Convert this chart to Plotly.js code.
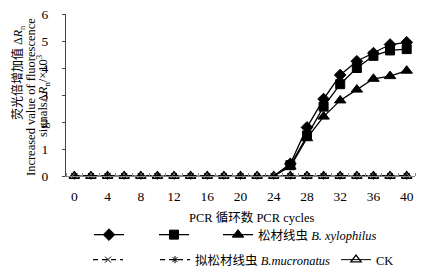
<!DOCTYPE html>
<html><head><meta charset="utf-8">
<script src="https://cdn.plot.ly/plotly-3.0.1.min.js"></script>
<style>body{margin:0;background:#fff}#c{width:432px;height:274px}</style>
</head><body><div id="c"></div>
<script>
const cycles = [0,2,4,6,8,10,12,14,16,18,20,22,24,26,28,30,32,34,36,38,40];
// B. xylophilus series: flat (0) until cycle 24, then rising
const bx1 = [0,0,0,0,0,0,0,0,0,0,0,0,0,0.45,1.8,2.85,3.74,4.25,4.55,4.87,4.95];
const bx2 = [0,0,0,0,0,0,0,0,0,0,0,0,0,0.40,1.5,2.57,3.4,4.0,4.45,4.65,4.7];
const bx3 = [0,0,0,0,0,0,0,0,0,0,0,0,0,0.35,1.4,2.2,2.8,3.2,3.6,3.7,3.9];
const bm1 = [0,0,0,0,0,0,0,0,0,0,0,0,0,0,0,0,0,0,0,0,0];
const bm2 = [0,0,0,0,0,0,0,0,0,0,0,0,0,0,0,0,0,0,0,0,0];
const ck  = [0,0,0,0,0,0,0,0,0,0,0,0,0,0,0,0,0,0,0,0,0];
const names = ['', '', '松材线虫 <i>B. xylophilus</i>', '', '拟松材线虫 <i>B.mucronatus</i>', 'CK'];
const xTicks = [0,4,8,12,16,20,24,28,32,36,40];
const yTicks = [0,1,2,3,4,5,6];
const riseStart = 13; // index of first non-zero point (cycle 26)

const FONT = 'Liberation Serif, Times New Roman, Noto Sans CJK SC, serif';
function legId(i) { return i === 0 ? 'legend' : 'legend' + (i + 1); }
function tr(y, i, sym, size, dash, from) {
  return {
    x: cycles.slice(from), y: y.slice(from), name: names[i], mode: 'lines+markers', cliponaxis: false,
    legend: legId(i),
    line: {color: '#000', width: 1.3, dash: dash},
    marker: {symbol: sym, size: size, color: '#000', line: {color: '#000', width: 1}}
  };
}
function connector(y, i) {
  return {x: cycles.slice(riseStart - 1, riseStart + 1), y: y.slice(riseStart - 1, riseStart + 1),
    mode: 'lines', showlegend: false, legend: legId(i), cliponaxis: false,
    line: {color: '#000', width: 1.3}};
}
const ckTrace = tr(ck, 5, 'triangle-up-open', 9, 'solid', 0);
ckTrace.line.width = 1; ckTrace.marker.line.width = 1.3;
const data = [
  connector(bx1, 0), connector(bx2, 1), connector(bx3, 2),
  tr(bx1, 0, 'diamond', 9, 'solid', riseStart),
  tr(bx2, 1, 'square', 9, 'solid', riseStart),
  tr(bx3, 2, 'triangle-up', 10, 'solid', riseStart),
  ckTrace,
  tr(bm1, 3, 'x-thin-open', 6, '5px,4px', 0),
  tr(bm2, 4, 'asterisk-open', 6, '5px,4px', 0)
];
function px2x(p) { return (p - 66) / 349; }
function py2y(p) { return (176 - p) / 162; }
function leg(xp, yp) {
  return {x: px2x(xp), y: py2y(yp), xanchor: 'left', yanchor: 'middle', orientation: 'h',
    bgcolor: 'rgba(0,0,0,0)', borderwidth: 0, itemwidth: 30,
    font: {family: FONT, size: 12.5, color: '#000'}};
}
function ylab(text, xp, yp, fs) {
  return {xref: 'paper', yref: 'paper', x: px2x(xp), y: py2y(yp), xanchor: 'center', yanchor: 'middle',
    textangle: -90, showarrow: false, font: {family: FONT, size: fs, color: '#000'}, text: text};
}
const layout = {
  width: 432, height: 274,
  margin: {l: 66, r: 17, t: 14, b: 98, autoexpand: false},
  paper_bgcolor: '#fff', plot_bgcolor: '#fff',
  font: {family: FONT, size: 12, color: '#000'},
  showlegend: true,
  legend: leg(89, 235), legend2: leg(154, 235), legend3: leg(218, 235),
  legend4: leg(88, 260), legend5: leg(155, 260), legend6: leg(336, 260),
  xaxis: {range: [-1, 41], tickvals: xTicks, ticktext: xTicks.map(String), ticks: '',
    showline: true, linecolor: '#888', linewidth: 1, showgrid: false, zeroline: false,
    minor: {ticks: 'inside', tick0: 1, dtick: 2, ticklen: 3, tickcolor: '#888'},
    tickfont: {family: FONT, size: 13.5}, automargin: false, ticklabelstandoff: 8},
  yaxis: {range: [0, 6], tickvals: yTicks, ticks: 'outside', ticklen: 3, tickcolor: '#444',
    ticklabelstandoff: 11, automargin: false,
    showline: true, linecolor: '#444', linewidth: 1, showgrid: false, zeroline: false,
    tickfont: {family: FONT, size: 13.5}},
  annotations: [
    ylab('荧光倍增加值 Δ<i>R</i><sub>n</sub>', 18, 73, 12),
    ylab('Increased value of fluorescence', 31, 97, 12.5),
    ylab('signalsΔ<i>R</i><sub>n</sub>/×10<sup>3</sup>', 43, 96, 12.5),
    {xref: 'paper', yref: 'paper', x: px2x(251), y: py2y(217), xanchor: 'center', yanchor: 'middle',
     showarrow: false, font: {family: FONT, size: 12.5, color: '#000'}, text: 'PCR 循环数 PCR cycles'}
  ]
};
Plotly.newPlot('c', data, layout, {staticPlot: true, displayModeBar: false});
</script></body></html>
